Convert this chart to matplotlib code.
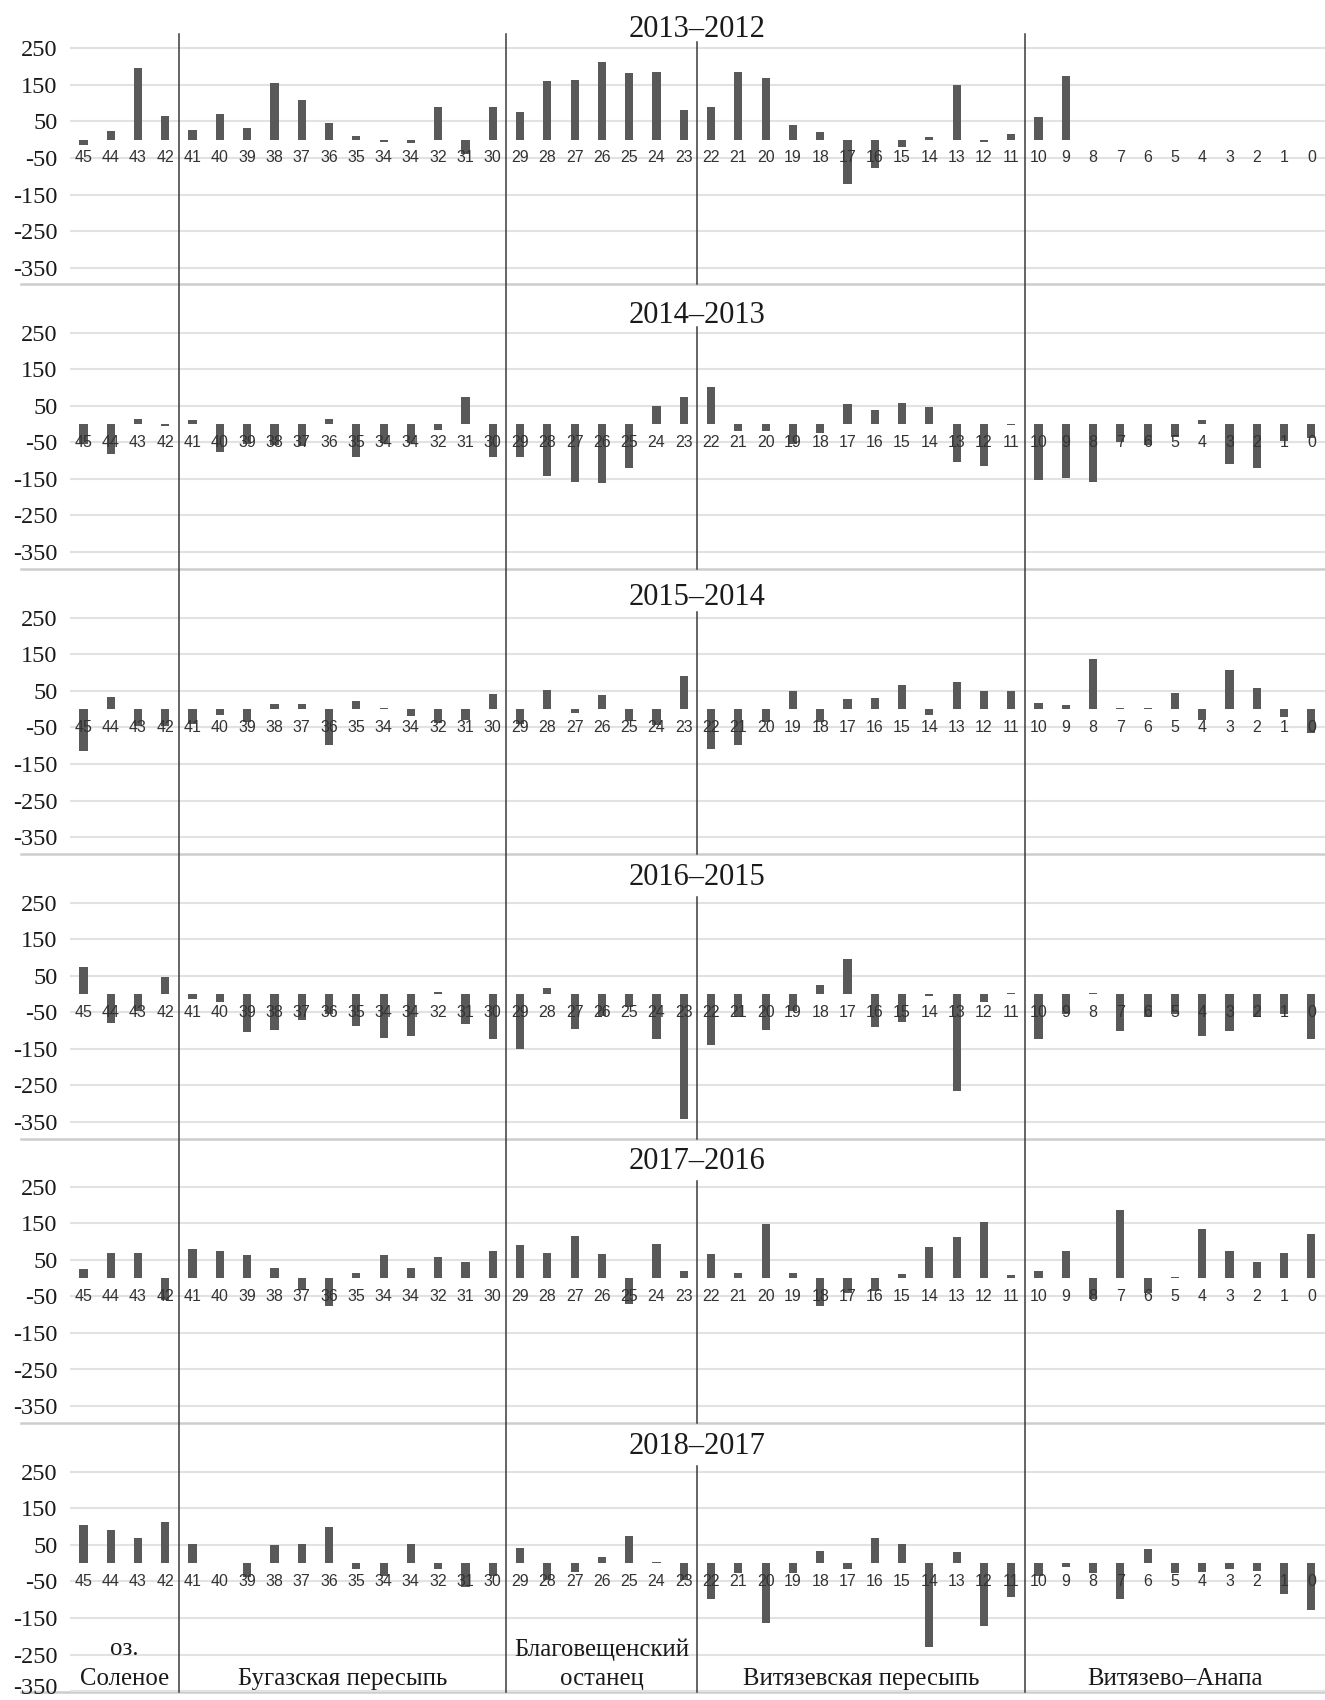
import matplotlib
matplotlib.use("Agg")
import matplotlib.pyplot as plt
import matplotlib.transforms as mtransforms
from matplotlib.lines import Line2D
import numpy as np

plt.rcParams['font.family'] = ['Liberation Serif', 'DejaVu Serif']

# profile numbers along the coast (west -> east)
profiles = ['45', '44', '43', '42', '41', '40', '39', '38', '37', '36', '35', '34', '34', '32', '31', '30',
            '29', '28', '27', '26', '25', '24', '23',
            '22', '21', '20', '19', '18', '17', '16', '15', '14', '13', '12', '11',
            '10', '9', '8', '7', '6', '5', '4', '3', '2', '1', '0']

periods = ['2013–2012', '2014–2013', '2015–2014', '2016–2015', '2017–2016', '2018–2017']

d_2013 = [-15, 24, 197, 66, 26, 70, 31, 156, 109, 47, 10, -6, -9, 89, -38, 89,
          77, 161, 164, 213, 183, 185, 80,
          89, 185, 170, 39, 20, -120, -77, -19, 7, 150, -5, 15,
          63, 174, 0, 0, 0, 0, 0, 0, 0, 0, 0]
d_2014 = [-55, -81, 15, -6, 11, -75, -55, -58, -60, 15, -90, -52, -52, -15, 73, -90,
          -91, -143, -158, -162, -121, 50, 74,
          101, -20, -20, -55, -25, 54, 39, 58, 48, -104, -115, -3,
          -154, -148, -158, -50, -58, -35, 10, -110, -119, -47, -38]
d_2015 = [-114, 34, -45, -45, -40, -16, -35, 15, 13, -98, 22, 3, -18, -38, -30, 40,
          -40, 51, -11, 38, -32, -43, 90,
          -109, -98, -35, 49, -35, 27, 29, 67, -16, 75, 49, 49,
          18, 11, 138, 3, 3, 43, -31, 107, 59, -21, -65]
d_2016 = [75, -80, -45, 48, -13, -22, -105, -98, -70, -55, -88, -120, -115, 5, -83, -122,
          -149, 18, -95, -60, -35, -122, -341,
          -139, -62, -98, -45, 26, 97, -91, -77, -5, -266, -21, 3,
          -123, -55, 3, -101, -62, -55, -115, -101, -62, -55, -123]
d_2017 = [25, 69, 69, -60, 79, 73, 63, 28, -32, -75, 14, 62, 28, 57, 45, 75,
          91, 69, 115, 67, -70, 93, 19,
          67, 15, 147, 15, -75, -40, -36, 10, 85, 113, 153, 9,
          19, 73, -58, 186, -40, 4, 135, 73, 45, 69, 120]
d_2018 = [105, 90, 68, 113, 52, 0, -38, 50, 52, 98, -16, -36, 52, -15, -65, -36,
          41, -45, -25, 17, 75, 4, -45,
          -98, -27, -164, -27, 33, -15, 68, 51, -230, 29, -173, -92,
          -36, -11, -27, -97, 38, -27, -25, -16, -22, -85, -128]
series = [d_2013, d_2014, d_2015, d_2016, d_2017, d_2018]

yticks = [250, 150, 50, -50, -150, -250, -350]
ytick_labels = ['250', '150', '50', '-50', '-150', '-250', '-350']

# coastal sections: (name lines, first index, last index)
sections = [(['оз.', 'Соленое'], 0, 3),
            (['Бугазская пересыпь'], 4, 15),
            (['Благовещенский', 'останец'], 16, 22),
            (['Витязевская пересыпь'], 23, 34),
            (['Витязево–Анапа'], 35, 45)]

W, H = 1325, 1700
fig = plt.figure(figsize=(W / 100, H / 100), dpi=100)

x = np.arange(len(profiles))
px_per_unit = 0.3656
panel_top = [48.3, 332.7, 617.7, 902.7, 1186.7, 1471.7]   # pixel row of the 250 line
title_y = [302, 298, 306, 318, 318, 318]
left_px = 69.8
y_hi = 270

axes = []
for k, (title, vals) in enumerate(zip(periods, series)):
    y_lo = -395 if k < 5 else -352
    top = panel_top[k] - (y_hi - 250) * px_per_unit
    bot = panel_top[k] + (250 - y_lo) * px_per_unit
    ax = fig.add_axes([left_px / W, 1 - bot / H, (W - left_px) / W, (bot - top) / H])
    ax.patch.set_visible(False)
    axes.append(ax)

    ax.bar(x, vals, width=0.3, color='#595959', zorder=2)
    ax.set_xlim(-0.5, len(profiles) - 0.5)
    ax.set_ylim(y_lo, y_hi)
    ax.set_yticks(yticks)
    ax.set_yticklabels(ytick_labels)
    ax.set_xticks([])
    ax.tick_params(axis='y', length=0, pad=9, labelsize=17.5, labelcolor='#1a1a1a')
    ax.grid(axis='y', color='#e2e2e2', lw=1.5, zorder=0)
    for s in ax.spines.values():
        s.set_visible(False)

    # bottom rule of the panel
    ax.plot([-0.039, 1], [y_lo, y_lo], transform=ax.get_yaxis_transform(),
            color='#cdcdcd', lw=1.8, clip_on=False, zorder=1)

    # middle divider between Благовещенский останец and Витязевская пересыпь
    ax.plot([22.5, 22.5], [y_lo, 266], color='#3a3a3a', lw=1.1, clip_on=False, zorder=4)

    for xi, lab in zip(x, profiles):
        ax.text(xi, -49, lab, ha='center', va='center', fontsize=11.5,
                family=['Liberation Sans', 'DejaVu Sans'], color='#333333', zorder=3)

    ax.text(0.5, title_y[k], title, transform=ax.get_yaxis_transform(), ha='center',
            va='center', fontsize=22, color='#1a1a1a', clip_on=False)

# lift the lowest tick label a little so it stays on the sheet
bottom_lab = axes[-1].get_yticklabels()[-1]
bottom_lab.set_transform(bottom_lab.get_transform() +
                         mtransforms.ScaledTranslation(0, 0.05, fig.dpi_scale_trans))

# section dividers running through all panels
blend = mtransforms.blended_transform_factory(axes[0].transData, fig.transFigure)
for xb in [3.5, 15.5, 34.5]:
    fig.add_artist(Line2D([xb, xb], [1 - 34.3 / H, 1 - 1692 / H], transform=blend,
                          color='#3a3a3a', lw=1.1, zorder=5))

# section names inside the last panel
last = axes[-1]
for lines, i0, i1 in sections:
    rows = [-236, -318] if len(lines) == 2 else [-318]
    for txt, yc in zip(lines, rows):
        last.text((i0 + i1) / 2, yc, txt, ha='center', va='center', fontsize=17.8,
                  color='#1a1a1a')

fig.savefig('out.png', dpi=100, facecolor='white')
